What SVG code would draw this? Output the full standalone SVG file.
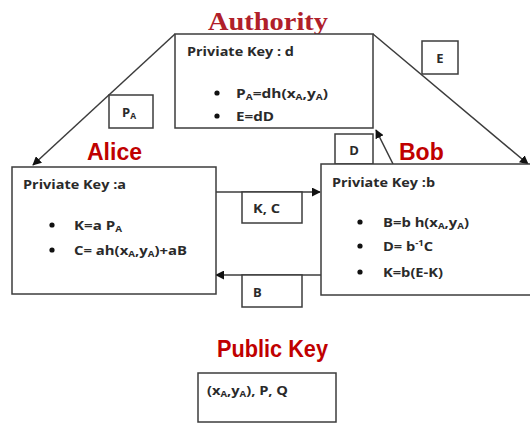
<svg xmlns="http://www.w3.org/2000/svg" width="530" height="423" viewBox="0 0 530 423">
<style>
.box{fill:#fff;stroke:#3c3c3c;stroke-width:1.5}
.ln{fill:none;stroke:#3c3c3c;stroke-width:1.5}
.t{font-family:"Open Sans","Liberation Sans",sans-serif;font-weight:700;font-size:13px;fill:#2a2a2a}
.sub{font-size:8.5px}
.title{font-family:"Liberation Sans",Arial,sans-serif;font-weight:700;font-size:23px;fill:#c00000}
.auth{font-family:"Liberation Serif","Times New Roman",serif;font-weight:700;font-size:25px;fill:#b0202a}
.dot{fill:#111}
</style>
<defs>
<marker id="ah" viewBox="0 0 10 10" refX="9" refY="5" markerWidth="9" markerHeight="9" markerUnits="userSpaceOnUse" orient="auto">
<path d="M0,0 L10,5 L0,10 z" fill="#111"/>
</marker>
</defs>
<g id="connectors">
<line class="ln" x1="175" y1="34" x2="33" y2="165" marker-end="url(#ah)"/>
<line class="ln" x1="373" y1="34" x2="528" y2="164" marker-end="url(#ah)"/>
<line class="ln" x1="393" y1="164" x2="376" y2="130" marker-end="url(#ah)"/>
<line class="ln" x1="216" y1="192" x2="320" y2="192" marker-end="url(#ah)"/>
<line class="ln" x1="321" y1="275" x2="216" y2="275" marker-end="url(#ah)"/>
<g id="label-PA"><rect class="box" x="109" y="95" width="44" height="33"/><text class="t" x="122" y="117">P<tspan class="sub" dy="2">A</tspan></text></g>
<g id="label-E"><rect class="box" x="422" y="41" width="36" height="33"/><text class="t" x="440" y="63" text-anchor="middle">E</text></g>
<g id="label-D"><rect class="box" x="335" y="134" width="38" height="30"/><text class="t" x="354" y="155" text-anchor="middle">D</text></g>
<g id="label-KC"><rect class="box" x="242" y="192" width="60" height="31"/><text class="t" x="253" y="213" textLength="27" lengthAdjust="spacingAndGlyphs">K, C</text></g>
<g id="label-B"><rect class="box" x="242" y="275" width="60" height="32"/><text class="t" x="253" y="297">B</text></g>
</g>
<g id="authority">
<text class="auth" x="208" y="30" textLength="120" lengthAdjust="spacingAndGlyphs">Authority</text>
<rect class="box" x="175" y="34" width="198" height="94"/>
<text class="t" x="187" y="56" textLength="107" lengthAdjust="spacingAndGlyphs">Priviate Key : d</text>
<circle class="dot" cx="217" cy="93" r="2.6"/>
<text class="t" x="236" y="98" textLength="92" lengthAdjust="spacingAndGlyphs">P<tspan class="sub" dy="2">A</tspan><tspan dy="-2">=dh(x</tspan><tspan class="sub" dy="2">A</tspan><tspan dy="-2">,y</tspan><tspan class="sub" dy="2">A</tspan><tspan dy="-2">)</tspan></text>
<circle class="dot" cx="217" cy="116" r="2.6"/>
<text class="t" x="236" y="121" textLength="38" lengthAdjust="spacingAndGlyphs">E=dD</text>
</g>
<g id="alice">
<text class="title" x="87" y="160">Alice</text>
<rect class="box" x="12" y="167" width="204" height="127"/>
<text class="t" x="23" y="189" textLength="103" lengthAdjust="spacingAndGlyphs">Priviate Key :a</text>
<circle class="dot" cx="52" cy="225" r="2.6"/>
<text class="t" x="74" y="230" textLength="48" lengthAdjust="spacingAndGlyphs">K=a P<tspan class="sub" dy="2">A</tspan></text>
<circle class="dot" cx="52" cy="250" r="2.6"/>
<text class="t" x="74" y="255" textLength="113" lengthAdjust="spacingAndGlyphs">C= ah(x<tspan class="sub" dy="2">A</tspan><tspan dy="-2">,y</tspan><tspan class="sub" dy="2">A</tspan><tspan dy="-2">)+aB</tspan></text>
</g>
<g id="bob">
<text class="title" x="399" y="160">Bob</text>
<rect class="box" x="321" y="164" width="212" height="131"/>
<text class="t" x="332" y="187" textLength="103" lengthAdjust="spacingAndGlyphs">Priviate Key :b</text>
<circle class="dot" cx="360" cy="222" r="2.6"/>
<text class="t" x="383" y="227" textLength="86" lengthAdjust="spacingAndGlyphs">B=b h(x<tspan class="sub" dy="2">A</tspan><tspan dy="-2">,y</tspan><tspan class="sub" dy="2">A</tspan><tspan dy="-2">)</tspan></text>
<circle class="dot" cx="360" cy="246" r="2.6"/>
<text class="t" x="383" y="251" textLength="50" lengthAdjust="spacingAndGlyphs">D= b<tspan class="sub" dy="-5">-1</tspan><tspan dy="5">C</tspan></text>
<circle class="dot" cx="360" cy="272" r="2.6"/>
<text class="t" x="383" y="277" textLength="60" lengthAdjust="spacingAndGlyphs">K=b(E-K)</text>
</g>
<g id="publickey">
<text class="title" x="217" y="357" textLength="111" lengthAdjust="spacingAndGlyphs">Public Key</text>
<rect class="box" x="198" y="373" width="138" height="49"/>
<text class="t" x="207" y="395" textLength="81" lengthAdjust="spacingAndGlyphs">(x<tspan class="sub" dy="2">A</tspan><tspan dy="-2">,y</tspan><tspan class="sub" dy="2">A</tspan><tspan dy="-2">), P, Q</tspan></text>
</g>
</svg>
